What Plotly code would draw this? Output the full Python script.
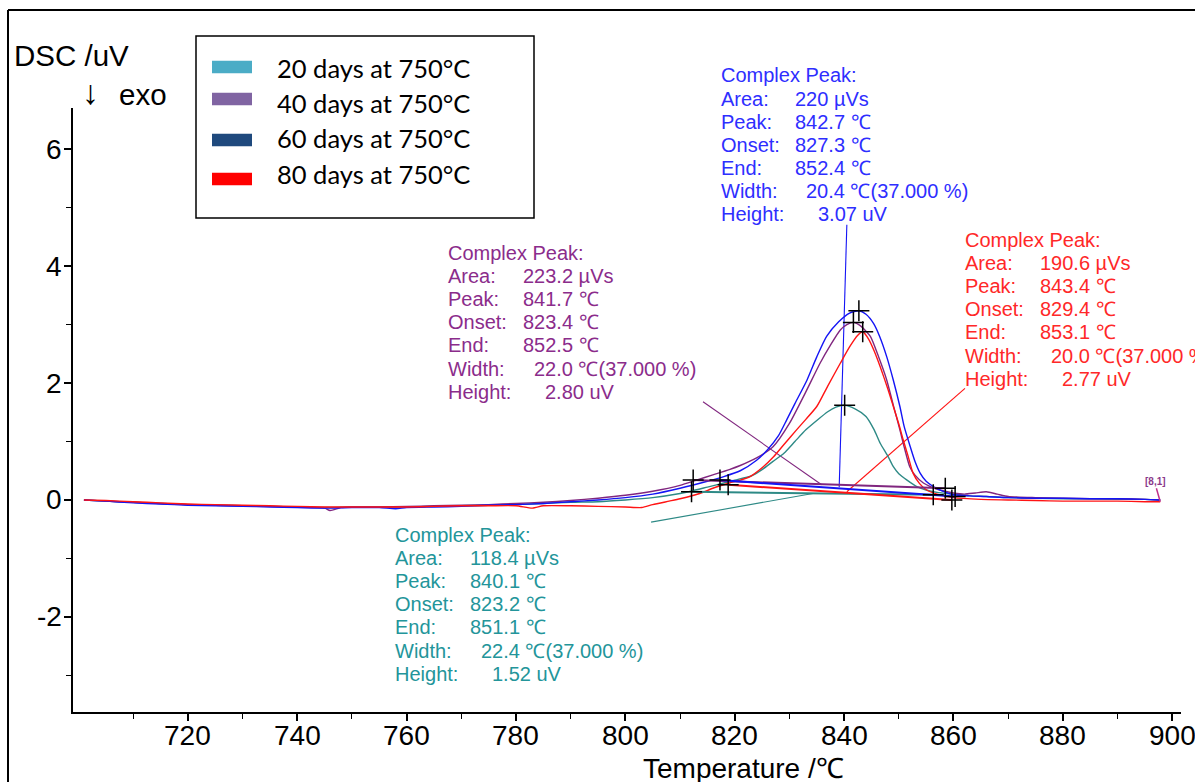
import plotly.graph_objects as go

# ---------------- DSC curves: temperature (°C) and signal (uV) ----------------
t_20 = [701, 705, 710, 715, 720, 725, 730, 735, 740, 745, 750, 755, 760, 765, 770, 775, 780, 785,
        790, 795, 800, 805, 810, 812, 815, 818, 820, 823, 825, 827, 829, 831, 833, 835, 837, 838.5,
        840.1, 842, 844, 845.5, 846.6, 848, 849, 850, 851.5, 853.3, 855, 857, 860, 863, 866, 870,
        875, 880, 885, 890, 895, 897.8]
dsc_20 = [0.00, -0.02, -0.04, -0.06, -0.08, -0.09, -0.10, -0.11, -0.12, -0.13, -0.12, -0.12, -0.12,
          -0.11, -0.10, -0.09, -0.08, -0.06, -0.04, -0.03, 0.00, 0.04, 0.11, 0.15, 0.22, 0.29, 0.34,
          0.41, 0.52, 0.66, 0.80, 1.00, 1.20, 1.36, 1.51, 1.59, 1.62, 1.56, 1.43, 1.20, 0.97, 0.75,
          0.57, 0.45, 0.34, 0.23, 0.17, 0.13, 0.10, 0.07, 0.06, 0.04, 0.03, 0.02, 0.02, 0.01, 0.01, 0.00]

t_40 = [701, 705, 710, 715, 720, 725, 730, 735, 740, 745, 746, 748, 750, 755, 760, 765, 770, 775,
        780, 785, 790, 795, 800, 805, 810, 813, 816, 819, 821, 824, 827, 830, 833, 835.6, 837.5,
        839.3, 840.5, 841.7, 843, 844.8, 846.3, 847.8, 849, 850.2, 851, 852, 853, 854.5, 856, 857.5,
        860, 862, 864, 866, 868, 870, 875, 880, 885, 890, 895, 897.8]
dsc_40 = [0.00, -0.02, -0.04, -0.06, -0.08, -0.09, -0.10, -0.11, -0.12, -0.14, -0.18, -0.13, -0.12,
          -0.12, -0.11, -0.10, -0.09, -0.08, -0.06, -0.04, -0.01, 0.03, 0.08, 0.15, 0.25, 0.34, 0.43,
          0.52, 0.59, 0.72, 0.91, 1.31, 1.85, 2.34, 2.65, 2.91, 3.00, 3.04, 2.98, 2.80, 2.45, 2.05,
          1.62, 1.20, 0.90, 0.57, 0.42, 0.29, 0.22, 0.17, 0.12, 0.10, 0.12, 0.14, 0.10, 0.06, 0.04,
          0.03, 0.02, 0.02, 0.01, 0.00]

t_60 = [701, 705, 710, 715, 720, 725, 730, 735, 740, 745, 750, 755, 758, 760, 765, 770, 775, 780,
        785, 790, 795, 800, 805, 810, 815, 818, 821, 824, 826, 828, 829.5, 831, 833.2, 835, 836.8,
        839, 841, 842.7, 844, 845.4, 846.5, 847.8, 849, 850.2, 851, 852.1, 853, 853.9, 855, 856.3,
        858, 860, 863, 866, 870, 875, 880, 885, 890, 895, 897.8]
dsc_60 = [0.00, -0.02, -0.05, -0.07, -0.09, -0.10, -0.11, -0.12, -0.13, -0.14, -0.13, -0.13, -0.15,
          -0.13, -0.12, -0.11, -0.09, -0.08, -0.06, -0.03, 0.00, 0.04, 0.10, 0.20, 0.32, 0.40, 0.50,
          0.68, 0.86, 1.10, 1.37, 1.65, 2.05, 2.45, 2.80, 3.05, 3.20, 3.24, 3.18, 3.02, 2.80, 2.45,
          2.05, 1.60, 1.25, 0.91, 0.65, 0.46, 0.32, 0.23, 0.15, 0.09, 0.07, 0.06, 0.04, 0.03, 0.03,
          0.02, 0.02, 0.01, 0.00]

t_80 = [701, 705, 710, 715, 720, 725, 730, 735, 740, 745, 750, 755, 760, 765, 770, 775, 780, 783,
        785, 790, 795, 800, 803, 805, 808, 810, 813.6, 816, 819, 821, 822.8, 825, 827.1, 829, 831.3,
        833, 835, 837, 839.3, 841, 842.5, 843.4, 844.5, 845.5, 846.6, 848, 849, 850, 850.8, 851.7,
        852.6, 853.8, 855.1, 857, 860, 865, 870, 875, 880, 885, 890, 895, 897.8]
dsc_80 = [0.00, -0.01, -0.03, -0.05, -0.07, -0.08, -0.09, -0.10, -0.11, -0.12, -0.12, -0.12, -0.12,
          -0.11, -0.10, -0.10, -0.10, -0.14, -0.10, -0.10, -0.11, -0.12, -0.13, -0.08, -0.02, 0.02,
          0.11, 0.20, 0.29, 0.34, 0.40, 0.55, 0.74, 0.95, 1.20, 1.38, 1.60, 1.95, 2.34, 2.62, 2.82,
          2.88, 2.75, 2.55, 2.28, 1.90, 1.60, 1.30, 1.03, 0.75, 0.46, 0.28, 0.17, 0.10, 0.04, 0.01,
          0.00, -0.01, -0.02, -0.02, -0.02, -0.03, -0.03]

# ---------------- peak evaluation ----------------
# integration baselines (start / end point of each complex peak)
base_20_t, base_20_v = [812.1, 856.3], [0.14, 0.09]
base_40_t, base_40_v = [812.4, 858.5], [0.34, 0.20]
base_60_t, base_60_v = [817.3, 860.3], [0.34, 0.06]
base_80_t, base_80_v = [818.8, 859.7], [0.26, 0.00]

# peak maxima
peak_t = [840.1, 841.7, 842.7, 843.4]
peak_v = [1.62, 3.04, 3.24, 2.88]

# leader lines from each result block to its peak
lead_20_t, lead_20_v = [804.7, 834.3], [-0.38, 0.11]
lead_40_t, lead_40_v = [814.2, 835.9], [1.68, 0.26]
lead_60_t, lead_60_v = [840.5, 839.1], [4.71, 0.22]
lead_80_t, lead_80_v = [862.1, 840.5], [1.91, 0.14]

# segment end marker
end_t, end_v = [897.8, 897.1], [-0.03, 0.20]

# axis ticks
x_ticks = [720, 740, 760, 780, 800, 820, 840, 860, 880, 900]
x_minor = [710, 730, 750, 770, 790, 810, 830, 850, 870, 890]
y_ticks = [-2, 0, 2, 4, 6]
y_tick_text = ["-2", "0", "2", "4", "6"]
y_minor = [-3, -1, 1, 3, 5]

# result tables
fields = ["Area:", "Peak:", "Onset:", "End:", "Width:", "Height:"]
res_20 = ["118.4 µVs", "840.1 ℃", "823.2 ℃", "851.1 ℃", "22.4 ℃(37.000 %)", "1.52 uV"]
res_40 = ["223.2 µVs", "841.7 ℃", "823.4 ℃", "852.5 ℃", "22.0 ℃(37.000 %)", "2.80 uV"]
res_60 = ["220 µVs", "842.7 ℃", "827.3 ℃", "852.4 ℃", "20.4 ℃(37.000 %)", "3.07 uV"]
res_80 = ["190.6 µVs", "843.4 ℃", "829.4 ℃", "853.1 ℃", "20.0 ℃(37.000 %)", "2.77 uV"]

legend_labels = ["20 days at 750°C", "40 days at 750°C", "60 days at 750°C", "80 days at 750°C"]
legend_colors = ["#4BACC6", "#8064A2", "#1F497D", "#FF0000"]

# ---------------- styling ----------------
C_TEAL, C_PURPLE, C_BLUE, C_RED = "#2E8A86", "#80267F", "#1414F5", "#FF1414"
T_TEAL, T_PURPLE, T_BLUE, T_RED = "#23959A", "#8B2C8B", "#2E2EFF", "#FF2828"
ARIAL = "Liberation Sans, Arial, Helvetica, sans-serif"
CALIBRI = "Lato, Carlito, Calibri, sans-serif"

W, H = 1195, 782
ML, MR, MT, MB = 73, 14, 108, 70
PW, PH = W - ML - MR, H - MT - MB


def px(x):
    return (x - ML) / PW


def py(y):
    return (H - MB - y) / PH


fig = go.Figure()

curves = [(t_20, dsc_20, C_TEAL), (t_40, dsc_40, C_PURPLE), (t_60, dsc_60, C_BLUE), (t_80, dsc_80, C_RED)]
bases = [(base_20_t, base_20_v, C_TEAL), (base_40_t, base_40_v, C_PURPLE),
         (base_60_t, base_60_v, C_BLUE), (base_80_t, base_80_v, C_RED)]
leads = [(lead_20_t, lead_20_v, C_TEAL), (lead_40_t, lead_40_v, C_PURPLE),
         (lead_60_t, lead_60_v, C_BLUE), (lead_80_t, lead_80_v, C_RED)]

for t, v, c in leads:
    fig.add_trace(go.Scatter(x=t, y=v, mode="lines", line=dict(color=c, width=1.1),
                             showlegend=False, hoverinfo="skip"))
for t, v, c in curves:
    fig.add_trace(go.Scatter(x=t, y=v, mode="lines",
                             line=dict(color=c, width=1.4, shape="spline", smoothing=0.6),
                             showlegend=False))
for t, v, c in bases:
    fig.add_trace(go.Scatter(x=t, y=v, mode="lines", line=dict(color=c, width=2),
                             showlegend=False, hoverinfo="skip"))

fig.add_trace(go.Scatter(x=end_t, y=end_v, mode="lines", line=dict(color="#C0308A", width=1.5),
                         showlegend=False, hoverinfo="skip"))

# evaluation markers
mark_t = peak_t + base_20_t + base_40_t + base_60_t + base_80_t
mark_v = peak_v + base_20_v + base_40_v + base_60_v + base_80_v
fig.add_trace(go.Scatter(x=mark_t, y=mark_v, mode="markers",
                         marker=dict(symbol="cross-thin", size=15, line=dict(color="black", width=1.5)),
                         showlegend=False, hoverinfo="skip"))

annotations = []


def text(xp, yp, s, size, color="black", family=ARIAL, xanchor="left"):
    annotations.append(dict(x=px(xp), y=py(yp), xref="paper", yref="paper", text=s,
                            showarrow=False, xanchor=xanchor, yanchor="middle",
                            font=dict(size=size, color=color, family=family)))


# tick labels on the data scales
for v in x_ticks:
    annotations.append(dict(x=v, y=py(735.5), xref="x", yref="paper", text=str(v), showarrow=False,
                            xanchor="center", yanchor="middle",
                            font=dict(size=28, color="black", family=ARIAL)))
for v, s in zip(y_ticks, y_tick_text):
    annotations.append(dict(x=px(64), y=v, xref="paper", yref="y", text=s, showarrow=False,
                            xanchor="right", yanchor="middle",
                            font=dict(size=28, color="black", family=ARIAL)))

# result blocks
offsets = [74.5, 74.5, 74.5, 74.5, 86, 97]
blocks = [(393, 535, res_20, T_TEAL), (446, 253, res_40, T_PURPLE),
          (718.5, 75.5, res_60, T_BLUE), (963, 240, res_80, T_RED)]
for x0, y0, res, col in blocks:
    text(x0, y0, "Complex Peak:", 20, col)
    for i, (f, r) in enumerate(zip(fields, res)):
        yy = y0 + (i + 1) * 23.1
        text(x0, yy, f, 20, col)
        text(x0 + offsets[i], yy, r, 20, col)

text(1155, 481, "<b>[8,1]</b>", 10, "#8B3A8B", xanchor="center")

# axis captions
text(12, 55, "DSC /uV", 29.5)
text(80, 92, "↓", 34)
text(117, 94, "exo", 29.5)
text(744, 768, "Temperature /℃", 28, xanchor="center")

# legend box
shapes = [dict(type="rect", xref="paper", yref="paper", x0=px(196), x1=px(534), y0=py(36), y1=py(218),
               line=dict(color="black", width=1.5), fillcolor="white", layer="above")]
sw_y = [67, 99, 140, 179]
tx_y = [68, 102.5, 138, 174]
for lab, col, sy, ty in zip(legend_labels, legend_colors, sw_y, tx_y):
    shapes.append(dict(type="rect", xref="paper", yref="paper", x0=px(212), x1=px(252),
                       y0=py(sy + 6.3), y1=py(sy - 6.3), line=dict(width=0), fillcolor=col, layer="above"))
    text(275, ty, lab, 25.5, "black", CALIBRI)

# outer frame
shapes.append(dict(type="line", xref="paper", yref="paper", x0=px(8), x1=px(1200), y0=py(10), y1=py(10),
                   line=dict(color="black", width=2)))
shapes.append(dict(type="line", xref="paper", yref="paper", x0=px(8), x1=px(8), y0=py(10), y1=py(790),
                   line=dict(color="black", width=2)))

fig.update_layout(
    width=W, height=H, autosize=False,
    margin=dict(l=ML, r=MR, t=MT, b=MB),
    paper_bgcolor="white", plot_bgcolor="white",
    showlegend=False,
    annotations=annotations, shapes=shapes,
    xaxis=dict(range=[699, 901.6], tickmode="array", tickvals=x_ticks, showticklabels=False,
               ticks="outside", ticklen=7, tickwidth=1.5, tickcolor="black",
               showline=True, linecolor="black", linewidth=1.5, showgrid=False, zeroline=False,
               minor=dict(ticks="outside", ticklen=5, tickwidth=1.2, tickcolor="black",
                          tickmode="array", tickvals=x_minor, showgrid=False)),
    yaxis=dict(range=[-3.63, 6.71], tickmode="array", tickvals=y_ticks, showticklabels=False,
               ticks="outside", ticklen=7, tickwidth=1.5, tickcolor="black",
               showline=True, linecolor="black", linewidth=1.5, showgrid=False, zeroline=False,
               minor=dict(ticks="outside", ticklen=5, tickwidth=1.2, tickcolor="black",
                          tickmode="array", tickvals=y_minor, showgrid=False)),
)

fig.write_html("out.html")
